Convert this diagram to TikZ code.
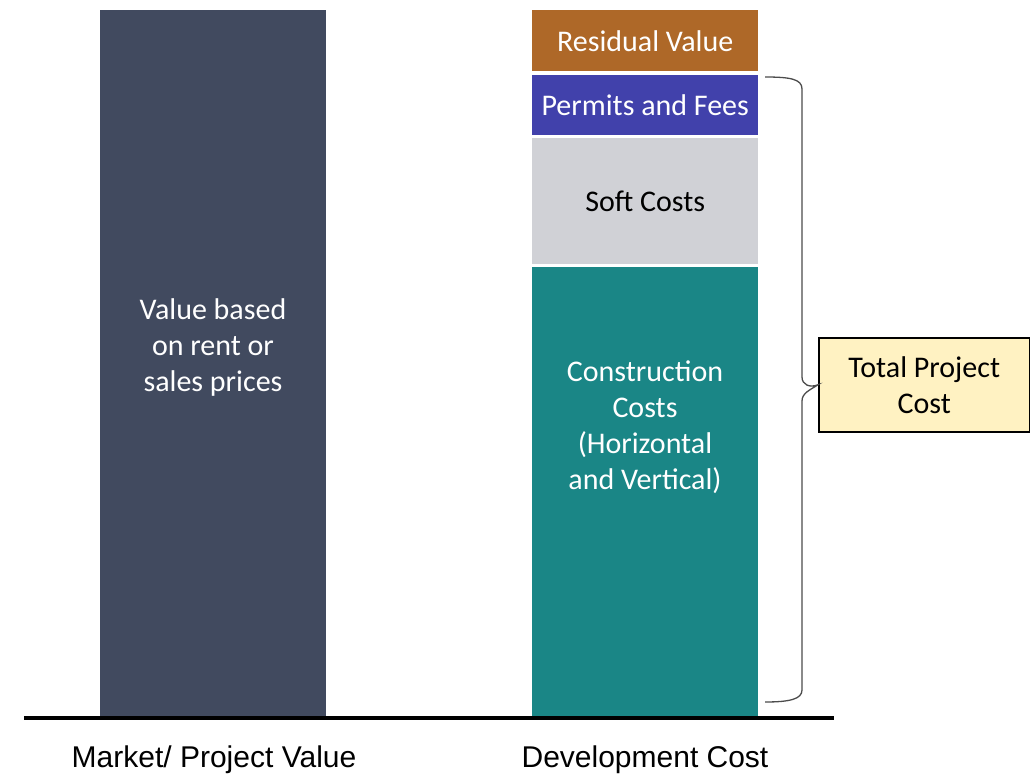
\documentclass[tikz,border=0pt]{standalone}
\usepackage{fontspec}
\newfontfamily\calibri{Carlito}
\newfontfamily\arialf{Liberation Sans}
\definecolor{mktbar}{HTML}{414A5F}
\definecolor{resid}{HTML}{AE6828}
\definecolor{permit}{HTML}{4141AB}
\definecolor{soft}{HTML}{D0D1D6}
\definecolor{constr}{HTML}{1A8686}
\definecolor{tpcfill}{HTML}{FFF2C2}
\begin{document}
\begin{tikzpicture}[x=1bp,y=-1bp,
  block/.style={anchor=north west,inner sep=0pt,minimum width=226bp,draw=none},
  barfont/.style={font=\calibri\fontsize{30bp}{36bp}\selectfont,align=center,inner sep=0pt},
  axislabel/.style={font=\arialf\fontsize{30bp}{36bp}\selectfont,inner sep=0pt,anchor=base},
  bracestyle/.style={draw=black!70,line width=1.3bp},
]
\useasboundingbox (0,0) rectangle (1030,775);
% left bar
\node[block,fill=mktbar,minimum height=706bp] (mkt) at (100,10) {};
\node[barfont,text=white] (mkttxt) at (213,347) {Value based\\on rent or\\sales prices};
% right stack
\node[block,fill=resid,minimum height=61bp,barfont,text=white] (res) at (532,10) {Residual Value};
\node[block,fill=permit,minimum height=60bp,barfont,text=white] (perm) at (532,75) {Permits and Fees};
\node[block,fill=soft,minimum height=126bp,barfont,text=black] (soft) at (532,138) {Soft Costs};
\node[block,fill=constr,minimum height=449bp] (con) at (532,267) {};
\node[barfont,text=white] (contxt) at (645,427) {Construction\\Costs\\(Horizontal\\and Vertical)};
% axis
\coordinate (axL) at (24,718);
\coordinate (axR) at (834,718);
\draw[line width=3.5bp,black] (axL) -- (axR);
% axis labels
\node[axislabel] (lblmkt) at (214,767) {Market/ Project Value};
\node[axislabel] (lbldev) at (645,767) {Development Cost};
% total project cost box
\node[draw=black,line width=1.5bp,fill=tpcfill,anchor=north west,minimum width=211bp,minimum height=94bp,inner sep=0pt,barfont,text=black] (tpc) at (818,337) {Total Project\\Cost};
% brace
\coordinate (bt) at (765,77);
\coordinate (bb) at (765,702);
\draw[bracestyle] (bt) .. controls (790,77) and (802,79) .. (802,89) -- (802,377)
  .. controls (802,385) and (810,388) .. (tpc.west)
  .. controls (810,390) and (802,393) .. (802,401) -- (802,690)
  .. controls (802,699) and (790,702) .. (bb);
\end{tikzpicture}
\end{document}
